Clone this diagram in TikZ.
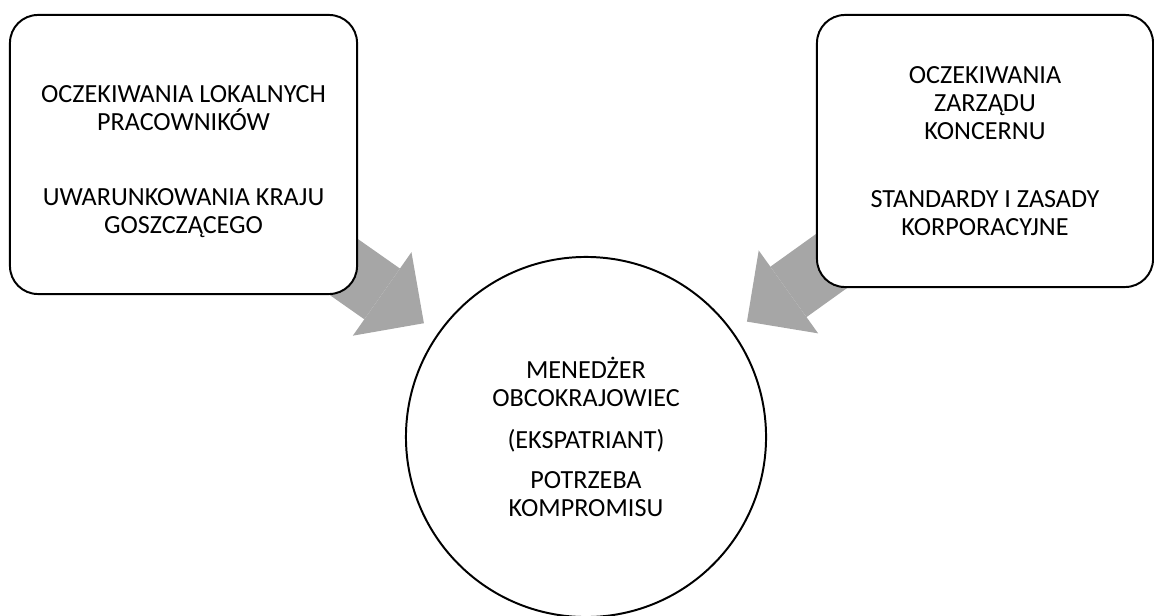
\documentclass[tikz,border=0pt]{standalone}
\usepackage{fontspec}
\setmainfont{Carlito}
\usetikzlibrary{arrows.meta,backgrounds}
\definecolor{arrgray}{RGB}{166,166,166}

\begin{document}
\begin{tikzpicture}[x=0.025cm,y=-0.025cm,
	box/.style={draw,line width=1.4pt,rounded corners=0.7cm,fill=white,align=center,inner sep=0pt,font=\fontsize{18.6}{19.9}\selectfont},
	big/.style={color=arrgray,line width=1.55cm,-{Triangle[length=1.275cm,width=2.55cm,line width=0pt]},shorten >=4.95cm}]
	\useasboundingbox (0,0) rectangle (1154,616);
	\node (l) [box,minimum width=8.675cm,minimum height=6.975cm] at (183.5,154.5)
		{\rule{0pt}{22.5pt}OCZEKIWANIA LOKALNYCH\\PRACOWNIKÓW\\[1.175cm]UWARUNKOWANIA KRAJU\\GOSZCZĄCEGO};
	\node (r) [box,minimum width=8.4cm,minimum height=6.8cm] at (985,151)
		{OCZEKIWANIA\\ZARZĄDU\\KONCERNU\\[1cm]STANDARDY I ZASADY\\KORPORACYJNE};
	\node (m) [box,circle,minimum size=9cm] at (586,437)
		{MENEDŻER\\OBCOKRAJOWIEC\\[0.35cm](EKSPATRIANT)\\[0.3cm]POTRZEBA\\KOMPROMISU};
	\begin{pgfonlayer}{background}
	\draw[big] (l.center) -- (m.center);
	\draw[big] (r.center) -- (m.center);
	\end{pgfonlayer}
\end{tikzpicture}
\end{document}
